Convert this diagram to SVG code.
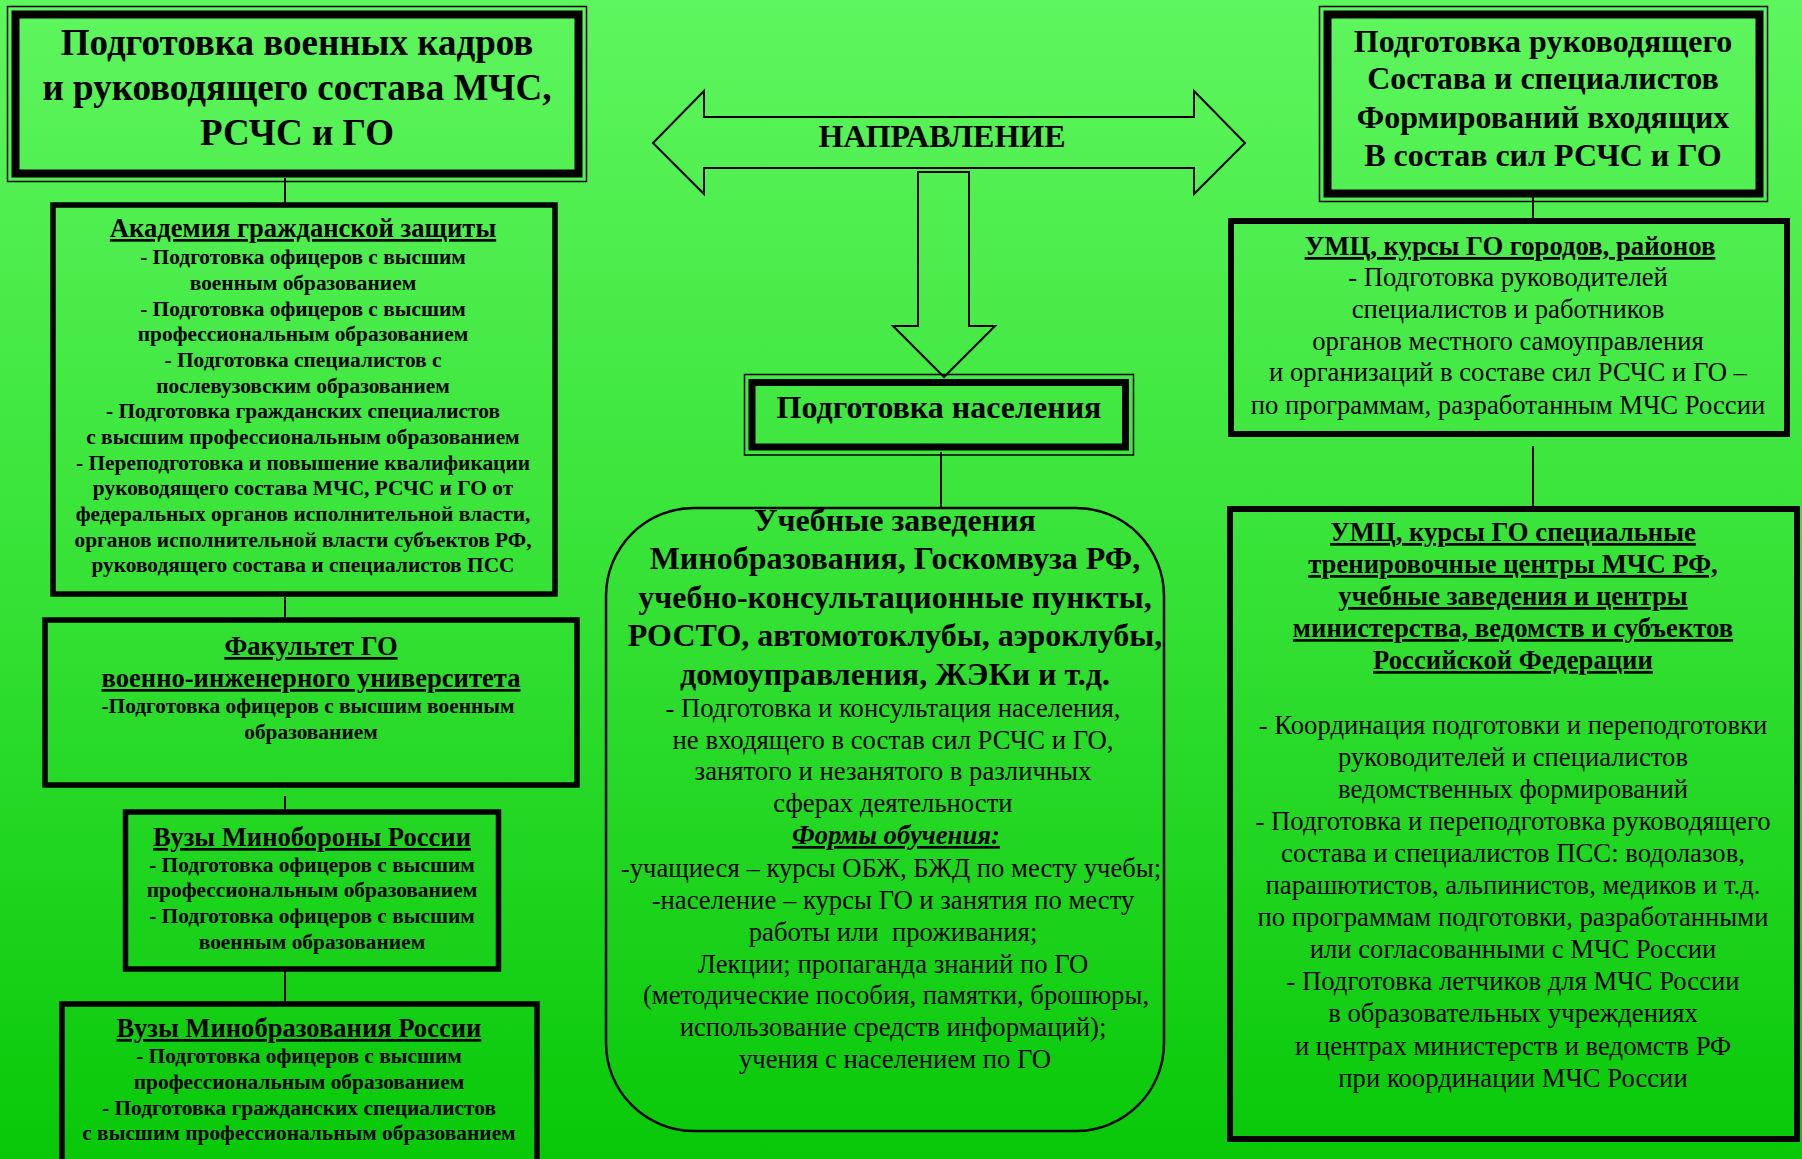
<svg xmlns="http://www.w3.org/2000/svg" width="1802" height="1159" viewBox="0 0 1802 1159">
<defs>
<linearGradient id="bg" x1="0" y1="0" x2="0" y2="1">
<stop offset="0" stop-color="#5ef65e"/>
<stop offset="0.5" stop-color="#36e236"/>
<stop offset="1" stop-color="#08c808"/>
</linearGradient>
<style>
text{font-family:"Liberation Serif","Times New Roman","DejaVu Serif",serif;fill:#000;text-anchor:middle}
.h36{font-size:37px;font-weight:bold}
.h32{font-size:32px;font-weight:bold}
.u27{font-size:26.6px;font-weight:bold;text-decoration:underline}
.u26{font-size:26.7px;font-weight:bold;text-decoration:underline}
.b22{font-size:21.4px;font-weight:bold}
.r26{font-size:26.7px}
.fi{font-size:26.7px;font-weight:bold;font-style:italic;text-decoration:underline}
.box{fill:none;stroke:#000;stroke-width:5.5}
.thin{fill:none;stroke:#000;stroke-width:1.5}
.thick{fill:none;stroke:#000;stroke-width:8}
.arrow{fill:none;stroke:#000;stroke-width:2}
.conn line{stroke:#000;stroke-width:2}
</style>
</defs>
<rect width="1802" height="1159" fill="url(#bg)"/>

<g id="connectors" class="conn">
<line x1="285" y1="178" x2="285" y2="203"/>
<line x1="285" y1="597" x2="285" y2="618"/>
<line x1="285" y1="796" x2="285" y2="810"/>
<line x1="285" y1="971" x2="285" y2="1002"/>
<line x1="941" y1="452" x2="941" y2="508"/>
<line x1="1533" y1="194" x2="1533" y2="219"/>
<line x1="1533" y1="446" x2="1533" y2="507"/>
</g>

<g id="arrows">
<path class="arrow" d="M653,143 L704,91 L704,117 L1194,117 L1194,91 L1245,143 L1194,194 L1194,168 L704,168 L704,194 Z"/>
<text class="h32" x="942" y="147">НАПРАВЛЕНИЕ</text>
<path class="arrow" d="M918,172 L969,172 L969,326 L995,326 L944,377 L893,326 L918,326 Z"/>
</g>

<g id="title-left">
<rect class="thin" x="7.5" y="6.5" width="579" height="175"/>
<rect class="thick" x="15.5" y="14.5" width="563" height="159"/>
<text class="h36" x="297" y="55">Подготовка военных кадров</text>
<text class="h36" x="297" y="100">и руководящего состава МЧС,</text>
<text class="h36" x="297" y="145">РСЧС и ГО</text>
</g>

<g id="academy">
<rect class="box" x="53" y="205" width="502" height="389"/>
<text class="u27" x="303" y="237">Академия гражданской защиты</text>
<text class="b22" x="303" y="264">- Подготовка офицеров с высшим</text>
<text class="b22" x="303" y="290">военным образованием</text>
<text class="b22" x="303" y="316">- Подготовка офицеров с высшим</text>
<text class="b22" x="303" y="341">профессиональным образованием</text>
<text class="b22" x="303" y="367">- Подготовка специалистов с</text>
<text class="b22" x="303" y="393">послевузовским образованием</text>
<text class="b22" x="303" y="418">- Подготовка гражданских специалистов</text>
<text class="b22" x="303" y="444">с высшим профессиональным образованием</text>
<text class="b22" x="303" y="470">- Переподготовка и повышение квалификации</text>
<text class="b22" x="303" y="495">руководящего состава МЧС, РСЧС и ГО от</text>
<text class="b22" x="303" y="521">федеральных органов исполнительной власти,</text>
<text class="b22" x="303" y="547">органов исполнительной власти субъектов РФ,</text>
<text class="b22" x="303" y="572">руководящего состава и специалистов ПСС</text>
</g>

<g id="faculty">
<rect class="box" x="45" y="620" width="532" height="165"/>
<text class="u27" x="311" y="655">Факультет ГО</text>
<text class="u27" x="311" y="687">военно-инженерного университета</text>
<text class="b22" x="308" y="713">-Подготовка офицеров с высшим военным</text>
<text class="b22" x="311" y="739">образованием</text>
</g>

<g id="vuzy-mo">
<rect class="box" x="125.5" y="812" width="373" height="157"/>
<text class="u27" x="312" y="846">Вузы Минобороны России</text>
<text class="b22" x="312" y="872">- Подготовка офицеров с высшим</text>
<text class="b22" x="312" y="897">профессиональным образованием</text>
<text class="b22" x="312" y="923">- Подготовка офицеров с высшим</text>
<text class="b22" x="312" y="949">военным образованием</text>
</g>

<g id="vuzy-mobr">
<rect class="box" x="62" y="1004" width="475" height="200"/>
<text class="u27" x="299" y="1037">Вузы Минобразования России</text>
<text class="b22" x="299" y="1063">- Подготовка офицеров с высшим</text>
<text class="b22" x="299" y="1089">профессиональным образованием</text>
<text class="b22" x="299" y="1115">- Подготовка гражданских специалистов</text>
<text class="b22" x="299" y="1140">с высшим профессиональным образованием</text>
</g>

<g id="population">
<rect class="thin" x="744.5" y="374.5" width="389" height="80.5"/>
<rect class="thick" x="752" y="382.5" width="373.5" height="64.5" style="stroke-width:7"/>
<text class="h32" x="939" y="418">Подготовка населения</text>
</g>

<g id="institutions">
<rect x="606" y="508" width="558" height="623" rx="88" ry="88" fill="none" stroke="#000" stroke-width="2.5"/>
<text class="h32" x="895" y="531">Учебные заведения</text>
<text class="h32" x="895" y="569">Минобразования, Госкомвуза РФ,</text>
<text class="h32" x="895" y="608">учебно-консультационные пункты,</text>
<text class="h32" x="895" y="646">РОСТО, автомотоклубы, аэроклубы,</text>
<text class="h32" x="895" y="685">домоуправления, ЖЭКи и т.д.</text>
<text class="r26" x="893" y="717">- Подготовка и консультация населения,</text>
<text class="r26" x="893" y="749">не входящего в состав сил РСЧС и ГО,</text>
<text class="r26" x="893" y="780">занятого и незанятого в различных</text>
<text class="r26" x="893" y="812">сферах деятельности</text>
<text class="fi" x="896" y="844">Формы обучения:</text>
<text class="r26" x="891" y="877">-учащиеся – курсы ОБЖ, БЖД по месту учебы;</text>
<text class="r26" x="893" y="909">-население – курсы ГО и занятия по месту</text>
<text class="r26" x="893" y="941" style="white-space:pre">работы или  проживания;</text>
<text class="r26" x="893" y="973">Лекции; пропаганда знаний по ГО</text>
<text class="r26" x="896" y="1004">(методические пособия, памятки, брошюры,</text>
<text class="r26" x="893" y="1036">использование средств информаций);</text>
<text class="r26" x="895" y="1068">учения с населением по ГО</text>
</g>

<g id="title-right">
<rect class="thin" x="1319.5" y="6.5" width="448" height="195"/>
<rect class="thick" x="1327.5" y="14.5" width="432" height="179"/>
<text class="h32" x="1543" y="52">Подготовка руководящего</text>
<text class="h32" x="1543" y="89">Состава и специалистов</text>
<text class="h32" x="1543" y="128">Формирований входящих</text>
<text class="h32" x="1543" y="166">В состав сил РСЧС и ГО</text>
</g>

<g id="umc-cities">
<rect class="box" x="1231" y="221" width="556" height="213" style="stroke-width:6"/>
<text class="u26" x="1510" y="255">УМЦ, курсы ГО городов, районов</text>
<text class="r26" x="1508" y="286">- Подготовка руководителей</text>
<text class="r26" x="1508" y="318">специалистов и работников</text>
<text class="r26" x="1508" y="350">органов местного самоуправления</text>
<text class="r26" x="1508" y="381">и организаций в составе сил РСЧС и ГО –</text>
<text class="r26" x="1508" y="414">по программам, разработанным МЧС России</text>
</g>

<g id="umc-special">
<rect class="box" x="1230" y="509" width="567" height="630" style="stroke-width:6"/>
<text class="u26" x="1513" y="541">УМЦ, курсы ГО специальные</text>
<text class="u26" x="1513" y="573">тренировочные центры МЧС РФ,</text>
<text class="u26" x="1513" y="605">учебные заведения и центры</text>
<text class="u26" x="1513" y="637">министерства, ведомств и субъектов</text>
<text class="u26" x="1513" y="669">Российской Федерации</text>
<text class="r26" x="1513" y="734">- Координация подготовки и переподготовки</text>
<text class="r26" x="1513" y="766">руководителей и специалистов</text>
<text class="r26" x="1513" y="798">ведомственных формирований</text>
<text class="r26" x="1513" y="830">- Подготовка и переподготовка руководящего</text>
<text class="r26" x="1513" y="862">состава и специалистов ПСС: водолазов,</text>
<text class="r26" x="1513" y="894">парашютистов, альпинистов, медиков и т.д.</text>
<text class="r26" x="1513" y="926">по программам подготовки, разработанными</text>
<text class="r26" x="1513" y="958">или согласованными с МЧС России</text>
<text class="r26" x="1513" y="990">- Подготовка летчиков для МЧС России</text>
<text class="r26" x="1513" y="1022">в образовательных учреждениях</text>
<text class="r26" x="1513" y="1055">и центрах министерств и ведомств РФ</text>
<text class="r26" x="1513" y="1087">при координации МЧС России</text>
</g>
</svg>
